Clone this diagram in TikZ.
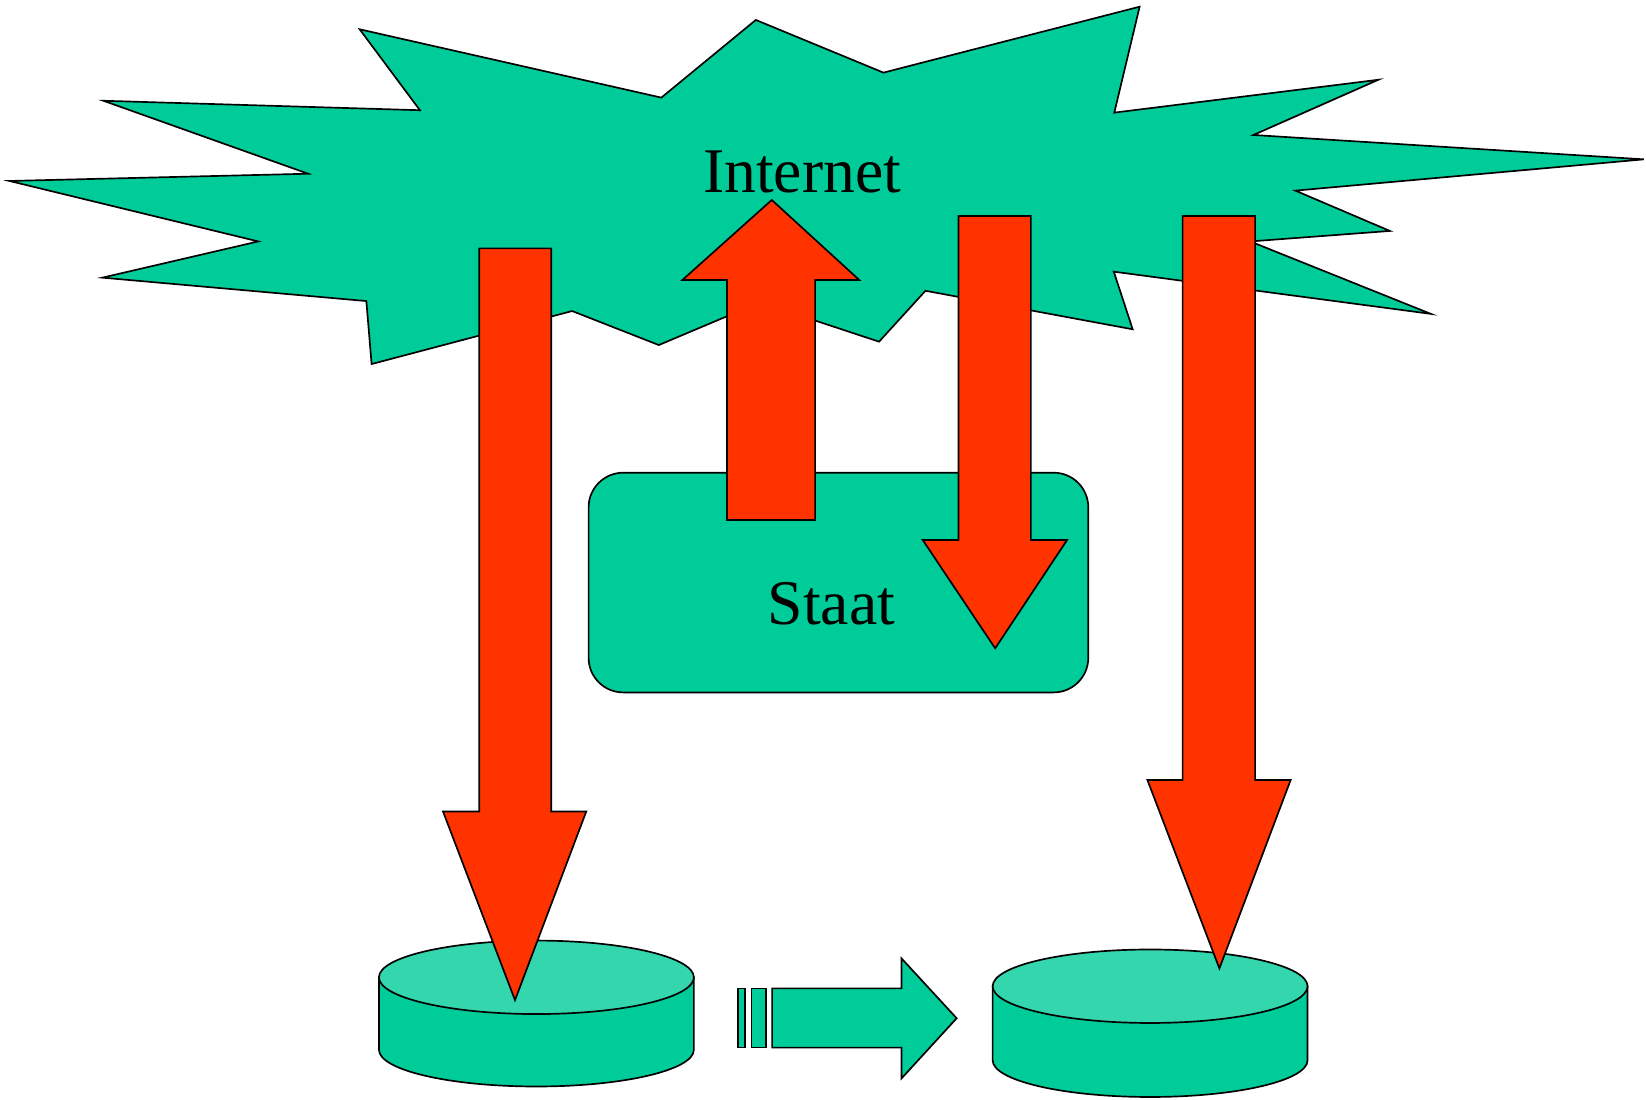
\documentclass[tikz,border=0pt]{standalone}
\usepackage{fontspec}
\setmainfont{Liberation Serif}
\definecolor{grn}{RGB}{0,204,153}
\definecolor{grnlt}{RGB}{51,214,173}
\definecolor{rd}{RGB}{255,51,0}
\tikzset{
  shapeline/.style={draw=black, line width=0.8pt, line join=miter},
  burst/.style={shapeline, fill=grn},
  redarrow/.style={shapeline, fill=rd},
  greenarrow/.style={shapeline, fill=grn},
  cylbody/.style={shapeline, fill=grn},
  cyltop/.style={shapeline, fill=grnlt},
  bigtext/.style={font=\fontsize{30.3}{36}\selectfont, inner sep=0pt, anchor=base}
}
\begin{document}
\begin{tikzpicture}[x=0.5pt, y=-0.5pt]
\useasboundingbox (0,0) rectangle (1568,1047);
% Internet burst
\draw[burst] (342.6,27.9) -- (400,105) -- (98.5,96) -- (293.5,165.5) -- (9,172.4)
  -- (246,230) -- (97.5,264.5) -- (349,286.8) -- (354,346.8) -- (545,296.3)
  -- (627.6,328.7) -- (724,288) -- (837.4,325.5) -- (881.6,277) -- (1079,313.7)
  -- (1061,258.8) -- (1363,299) -- (1191,230) -- (1324,220) -- (1234,181.6)
  -- (1566,151.8) -- (1194,128.6) -- (1313,76) -- (1061.5,107.3) -- (1085.6,6.4)
  -- (841.6,69.2) -- (720,19) -- (630,93) -- cycle;
\node[bigtext] (internet) at (764,183) {Internet};
% Staat box
\draw[shapeline, fill=grn, rounded corners=16.5pt] (560.7,450.3) rectangle (1036.7,659.6);
\node[bigtext] (staat) at (792,594.5) {Staat};
% Cylinders
\draw[cylbody] (361,931) -- (361,1000) arc[start angle=180, end angle=360, x radius=75pt, y radius=17.5pt] -- (661,931) -- cycle;
\draw[cyltop] (511,931) ellipse [x radius=75pt, y radius=17.5pt];
\draw[cylbody] (945.6,939.5) -- (945.6,1010) arc[start angle=180, end angle=360, x radius=75pt, y radius=17.5pt] -- (1245.6,939.5) -- cycle;
\draw[cyltop] (1095.6,939.5) ellipse [x radius=75pt, y radius=17.5pt];
% green transfer arrow with bars
\draw[greenarrow] (702.8,941.5) rectangle (710,998);
\draw[greenarrow] (715.8,941.5) rectangle (729.7,998);
\draw[greenarrow] (735.5,941.5) -- (858.8,941.5) -- (858.8,913) -- (911.3,970) -- (858.8,1027.3) -- (858.8,998) -- (735.5,998) -- cycle;
% Red arrows
\draw[redarrow] (692.6,495.4) -- (692.6,266.7) -- (650.1,266.7) -- (735.2,190.5) -- (818.5,266.7) -- (776.5,266.7) -- (776.5,495.4) -- cycle;
\draw[redarrow] (913,205.8) -- (982,205.8) -- (982,514.4) -- (1016.5,514.4) -- (948,617.6) -- (879,514.4) -- (913,514.4) -- cycle;
\draw[redarrow] (456.6,236.6) -- (525.1,236.6) -- (525.1,773) -- (558.5,773) -- (490.6,952.7) -- (422,773) -- (456.6,773) -- cycle;
\draw[redarrow] (1126.6,205.8) -- (1195.6,205.8) -- (1195.6,743) -- (1229.5,743) -- (1161.6,922.5) -- (1093,743) -- (1126.6,743) -- cycle;
\end{tikzpicture}
\end{document}
